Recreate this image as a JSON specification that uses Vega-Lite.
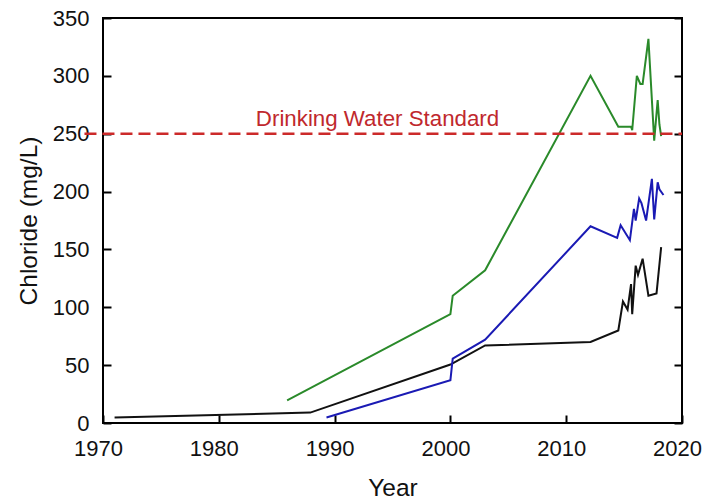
{
  "$schema": "https://vega.github.io/schema/vega-lite/v6.json",
  "width": 579,
  "height": 405,
  "autosize": {"type": "none"},
  "padding": {"left": 103, "top": 18, "right": 23, "bottom": 78},
  "background": "white",
  "config": {
    "font": "Liberation Sans",
    "view": {"stroke": "black", "strokeWidth": 2},
    "axis": {"grid": false, "domain": false, "labelFont": "Liberation Sans", "titleFont": "Liberation Sans", "labelColor": "#111", "titleColor": "#111", "tickColor": "black", "tickWidth": 2}
  },
  "datasets": {
    "series": [
      {"site": "A", "year": 1971.0, "chloride": 4.7},
      {"site": "A", "year": 1987.9, "chloride": 9},
      {"site": "A", "year": 2000.0, "chloride": 50.5},
      {"site": "A", "year": 2003.0, "chloride": 67},
      {"site": "A", "year": 2012.1, "chloride": 70},
      {"site": "A", "year": 2014.5, "chloride": 80},
      {"site": "A", "year": 2014.9, "chloride": 105},
      {"site": "A", "year": 2015.3, "chloride": 98},
      {"site": "A", "year": 2015.6, "chloride": 120},
      {"site": "A", "year": 2015.7, "chloride": 94},
      {"site": "A", "year": 2016.0, "chloride": 136},
      {"site": "A", "year": 2016.2, "chloride": 128},
      {"site": "A", "year": 2016.6, "chloride": 142},
      {"site": "A", "year": 2017.1, "chloride": 110},
      {"site": "A", "year": 2017.8, "chloride": 112},
      {"site": "A", "year": 2018.2, "chloride": 152},
      {"site": "B", "year": 1989.3, "chloride": 4.7},
      {"site": "B", "year": 2000.0, "chloride": 37},
      {"site": "B", "year": 2000.2, "chloride": 55.6},
      {"site": "B", "year": 2003.0, "chloride": 72},
      {"site": "B", "year": 2012.1, "chloride": 170},
      {"site": "B", "year": 2014.4, "chloride": 160},
      {"site": "B", "year": 2014.7, "chloride": 171},
      {"site": "B", "year": 2015.5, "chloride": 158},
      {"site": "B", "year": 2015.85, "chloride": 185},
      {"site": "B", "year": 2016.0, "chloride": 175},
      {"site": "B", "year": 2016.3, "chloride": 194},
      {"site": "B", "year": 2016.5, "chloride": 190},
      {"site": "B", "year": 2016.9, "chloride": 175},
      {"site": "B", "year": 2017.4, "chloride": 211},
      {"site": "B", "year": 2017.6, "chloride": 176},
      {"site": "B", "year": 2017.9, "chloride": 208},
      {"site": "B", "year": 2018.05, "chloride": 202},
      {"site": "B", "year": 2018.4, "chloride": 197},
      {"site": "C", "year": 1985.9, "chloride": 19.6},
      {"site": "C", "year": 2000.0, "chloride": 94},
      {"site": "C", "year": 2000.2, "chloride": 110},
      {"site": "C", "year": 2003.0, "chloride": 132},
      {"site": "C", "year": 2012.1, "chloride": 300},
      {"site": "C", "year": 2014.5, "chloride": 256},
      {"site": "C", "year": 2015.6, "chloride": 256},
      {"site": "C", "year": 2015.7, "chloride": 253},
      {"site": "C", "year": 2016.1, "chloride": 300},
      {"site": "C", "year": 2016.4, "chloride": 293},
      {"site": "C", "year": 2016.6, "chloride": 293},
      {"site": "C", "year": 2017.1, "chloride": 332},
      {"site": "C", "year": 2017.6, "chloride": 244},
      {"site": "C", "year": 2017.9, "chloride": 279},
      {"site": "C", "year": 2018.05, "chloride": 258},
      {"site": "C", "year": 2018.2, "chloride": 248}
    ],
    "standard": [{"chloride": 250, "label": "Drinking Water Standard"}]
  },
  "layer": [
    {
      "data": {"name": "series"},
      "mark": {"type": "line", "strokeWidth": 2, "clip": true},
      "encoding": {
        "x": {"field": "year", "type": "quantitative", "scale": {"domain": [1970, 2020], "nice": false, "zero": false},
              "axis": {"title": "Year", "values": [1970, 1980, 1990, 2000, 2010, 2020], "format": "d", "tickSize": -8, "labelFlush": false, "labelOffset": -5, "labelPadding": 23, "labelFontSize": 22, "titleFontSize": 24.5, "titleFontWeight": "normal", "titlePadding": 17}},
        "y": {"field": "chloride", "type": "quantitative", "scale": {"domain": [0, 350], "nice": false},
              "axis": {"title": "Chloride (mg/L)", "values": [0, 50, 100, 150, 200, 250, 300, 350], "tickSize": -8, "labelFlush": false, "labelPadding": 22, "labelFontSize": 22, "titleFontSize": 24.5, "titleFontWeight": "normal", "titlePadding": 11}},
        "color": {"field": "site", "type": "nominal", "scale": {"domain": ["A", "B", "C"], "range": ["#111111", "#1a1ab4", "#2a8a2a"]}, "legend": null},
        "detail": {"field": "site"}
      }
    },
    {
      "data": {"name": "standard"},
      "mark": {"type": "rule", "color": "#cc2a2a", "strokeWidth": 2.5, "strokeDash": [12, 6], "clip": false},
      "encoding": {
        "x": {"datum": 1968.4, "type": "quantitative"},
        "x2": {"datum": 2020},
        "y": {"field": "chloride", "type": "quantitative", "axis": {"orient": "right", "title": null, "labels": false, "values": [0, 50, 100, 150, 200, 250, 300, 350], "tickSize": -8}}
      }
    },
    {
      "data": {"name": "standard"},
      "mark": {"type": "text", "color": "#c0282d", "fontSize": 22.3, "align": "left", "baseline": "alphabetic", "font": "Liberation Sans"},
      "encoding": {
        "x": {"datum": 1983.2, "type": "quantitative"},
        "y": {"field": "chloride", "type": "quantitative", "axis": null},
        "yOffset": {"value": -7.4},
        "text": {"field": "label"}
      }
    }
  ],
  "resolve": {"axis": {"y": "independent"}}
}
